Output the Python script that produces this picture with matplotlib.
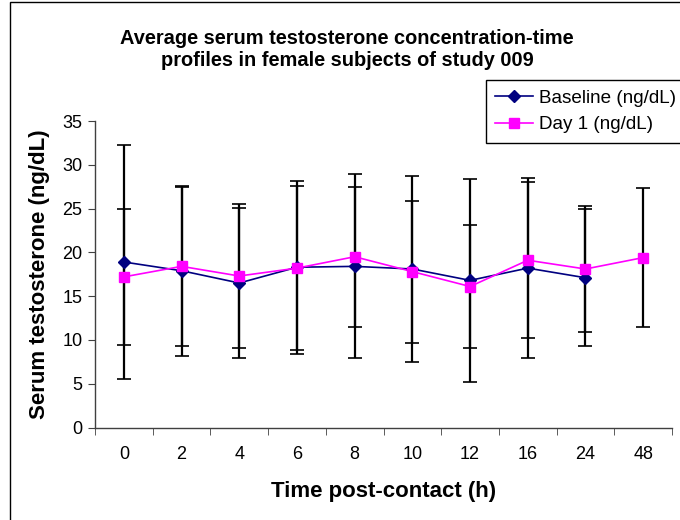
import matplotlib
matplotlib.use('Agg')
import matplotlib.pyplot as plt
from matplotlib.patches import Rectangle
import numpy as np

plt.rcParams['font.family'] = ['Liberation Sans', 'DejaVu Sans']

# data
times = ['0', '2', '4', '6', '8', '10', '12', '16', '24', '48']
baseline = [18.9, 17.9, 16.5, 18.3, 18.4, 18.1, 16.8, 18.2, 17.1, np.nan]
baseline_sd = [13.4, 9.7, 8.6, 9.9, 10.5, 10.6, 11.6, 10.3, 7.8, np.nan]
day1 = [17.2, 18.4, 17.3, 18.2, 19.5, 17.8, 16.1, 19.1, 18.1, 19.4]
day1_sd = [7.8, 9.1, 8.2, 9.4, 8.0, 8.1, 7.0, 8.9, 7.2, 7.9]

x = np.arange(len(times))

fig = plt.figure(figsize=(6.8, 5.2), dpi=100)
ax = fig.add_axes([95/680, 1-427.5/520, (672-95)/680, (427.5-121)/520])

ebkw = dict(fmt='none', ecolor='black', elinewidth=1.6, capsize=5, capthick=1.2, zorder=2)
ax.errorbar(x, baseline, yerr=baseline_sd, **ebkw)
ax.errorbar(x, day1, yerr=day1_sd, **ebkw)

ax.plot(x, baseline, '-', color='#000080', linewidth=1.2, marker='D',
        markersize=6, markerfacecolor='#000080', markeredgecolor='#000080',
        label='Baseline (ng/dL)', zorder=3)
ax.plot(x, day1, '-', color='#FF00FF', linewidth=1.2, marker='s',
        markersize=6.5, markerfacecolor='#FF00FF', markeredgecolor='#FF00FF',
        label='Day 1 (ng/dL)', zorder=4)

ax.set_xlim(-0.5, len(times) - 0.5)
ax.set_ylim(0, 35)
ax.set_yticks(range(0, 36, 5))
ax.set_xticks(x)
ax.set_xticklabels(times)
ax.set_xticks(np.arange(-0.5, len(times), 1), minor=True)
ax.tick_params(axis='x', which='major', length=0, pad=13.5, labelsize=13)
ax.tick_params(axis='x', which='minor', length=5, color='#404040', direction='out')
ax.tick_params(axis='y', length=5, color='#404040', direction='out', labelsize=13, pad=4)

for s in ['top', 'right']:
    ax.spines[s].set_visible(False)
for s in ['left', 'bottom']:
    ax.spines[s].set_color('#404040')
    ax.spines[s].set_linewidth(1.0)

ax.set_xlabel('Time post-contact (h)', fontsize=16, fontweight='bold', labelpad=13)
ax.set_ylabel('Serum testosterone (ng/dL)', fontsize=16, fontweight='bold', labelpad=9)

fig.text(347/680, 1-50/520,
         'Average serum testosterone concentration-time\nprofiles in female subjects of study 009',
         ha='center', va='center', fontsize=14.4, fontweight='bold', linespacing=1.2)

leg = ax.legend(loc='upper left', bbox_to_anchor=(486/680, 1-80/520),
                bbox_transform=fig.transFigure, fontsize=13.6, frameon=True,
                fancybox=False, framealpha=1, edgecolor='black',
                handlelength=2.0, handletextpad=0.3, borderpad=0.5,
                labelspacing=0.5, borderaxespad=0)
leg.get_frame().set_linewidth(1.0)

fig.patches.append(Rectangle((10/680, -0.1), 1.0, 1.1 - 2/520, transform=fig.transFigure,
                             fill=False, edgecolor='black', linewidth=1.0))

fig.savefig('out.png', dpi=100)
